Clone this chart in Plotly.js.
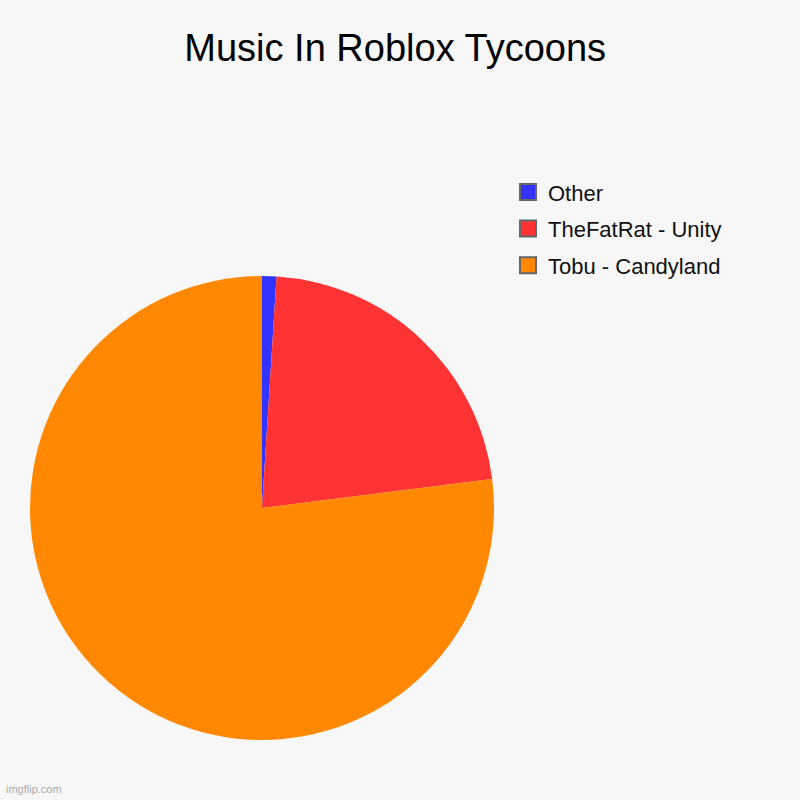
<!DOCTYPE html>
<html>
<head>
<meta charset="utf-8">
<script src="https://cdn.plot.ly/plotly-3.0.1.min.js"></script>
<style>
  html, body { margin: 0; padding: 0; background: #f7f7f7; }
  #plot { width: 800px; height: 800px; }
</style>
</head>
<body>
<div id="plot"></div>
<script>
const labels = ['Other', 'TheFatRat - Unity', 'Tobu - Candyland'];
const values = [1, 22, 77];
const colors = ['#3333ff', '#ff3333', '#ff8800'];

const pie = {
    type: 'pie',
    labels: labels,
    values: values,
    sort: false,
    direction: 'clockwise',
    rotation: 0,
    textinfo: 'none',
    hoverinfo: 'none',
    showlegend: false,
    marker: { colors: colors, line: { width: 0 } },
    domain: { x: [30 / 800, 494 / 800], y: [60 / 800, 524 / 800] }
};

// legend entries: one empty scatter per label so the boxes can be bigger and spaced out
const legendTraces = labels.map((name, i) => ({
    type: 'scatter',
    mode: 'markers',
    x: [null],
    y: [null],
    name: name,
    legendgroup: 'g' + i,
    hoverinfo: 'none',
    marker: { symbol: 'square', size: 16, color: colors[i], line: { color: '#666', width: 2 } }
}));

const layout = {
    width: 800,
    height: 800,
    paper_bgcolor: '#f7f7f7',
    plot_bgcolor: '#f7f7f7',
    margin: { t: 0, b: 0, l: 0, r: 0 },
    font: { family: 'Liberation Sans, Arial, sans-serif', color: '#111' },
    xaxis: { visible: false },
    yaxis: { visible: false },
    title: {
        text: 'Music In Roblox Tycoons',
        font: { size: 38, color: '#000' },
        x: 0.494,
        xanchor: 'center',
        y: 0.941,
        yanchor: 'middle'
    },
    showlegend: true,
    legend: {
        x: 0.635,
        y: 0.786,
        xanchor: 'left',
        yanchor: 'top',
        traceorder: 'grouped',
        tracegroupgap: 5,
        itemsizing: 'trace',
        font: { size: 22, color: '#111' },
        bgcolor: 'rgba(0,0,0,0)'
    },
    annotations: [{
        text: 'imgflip.com',
        xref: 'paper', yref: 'paper',
        x: 0.005, y: 0.004,
        xanchor: 'left', yanchor: 'bottom',
        showarrow: false,
        font: { size: 11, color: '#aaa' }
    }]
};

Plotly.newPlot('plot', [pie].concat(legendTraces), layout, { displayModeBar: false, staticPlot: true });
</script>
</body>
</html>
